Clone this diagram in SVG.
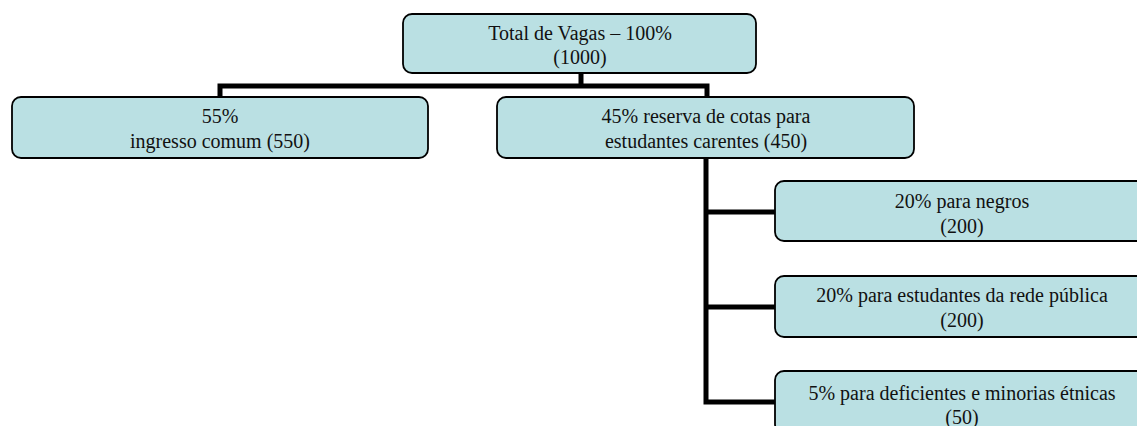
<svg xmlns="http://www.w3.org/2000/svg" width="1137" height="426" viewBox="0 0 1137 426">
  <style>
    .box { fill: #BAE0E3; stroke: #000; stroke-width: 1.8; }
    .lbl { font-family: "Liberation Serif", "Times New Roman", serif; font-size: 20px; fill: #111; text-anchor: middle; }
    .conn { fill: none; stroke: #000; stroke-width: 5; stroke-linecap: butt; stroke-linejoin: miter; }
  </style>
  <rect width="1137" height="426" fill="#fff"/>
  <g id="connectors">
    <path class="conn" d="M581,73 V86"/>
    <path class="conn" d="M220,97 V86 H707 V97"/>
    <path class="conn" d="M706,158 V402 H775"/>
    <path class="conn" d="M706,212 H775"/>
    <path class="conn" d="M706,307 H775"/>
  </g>
  <g id="node-total">
    <rect class="box" x="403" y="14" width="353" height="59" rx="9"/>
    <text class="lbl" x="580" y="40">Total de Vagas – 100%</text>
    <text class="lbl" x="580" y="64">(1000)</text>
  </g>
  <g id="node-comum">
    <rect class="box" x="12" y="97" width="416" height="61" rx="9"/>
    <text class="lbl" x="220" y="123">55%</text>
    <text class="lbl" x="220" y="148">ingresso comum (550)</text>
  </g>
  <g id="node-cotas">
    <rect class="box" x="497" y="97" width="417" height="61" rx="9"/>
    <text class="lbl" x="706" y="123">45% reserva de cotas para</text>
    <text class="lbl" x="706" y="148">estudantes carentes (450)</text>
  </g>
  <g id="node-negros">
    <rect class="box" x="775" y="181" width="375" height="60" rx="9"/>
    <text class="lbl" x="962" y="208">20% para negros</text>
    <text class="lbl" x="962" y="233">(200)</text>
  </g>
  <g id="node-publica">
    <rect class="box" x="775" y="276" width="375" height="61" rx="9"/>
    <text class="lbl" x="962" y="302">20% para estudantes da rede pública</text>
    <text class="lbl" x="962" y="327">(200)</text>
  </g>
  <g id="node-deficientes">
    <rect class="box" x="775" y="371" width="375" height="62" rx="9"/>
    <text class="lbl" x="962" y="400">5% para deficientes e minorias étnicas</text>
    <text class="lbl" x="962" y="424">(50)</text>
  </g>
</svg>
